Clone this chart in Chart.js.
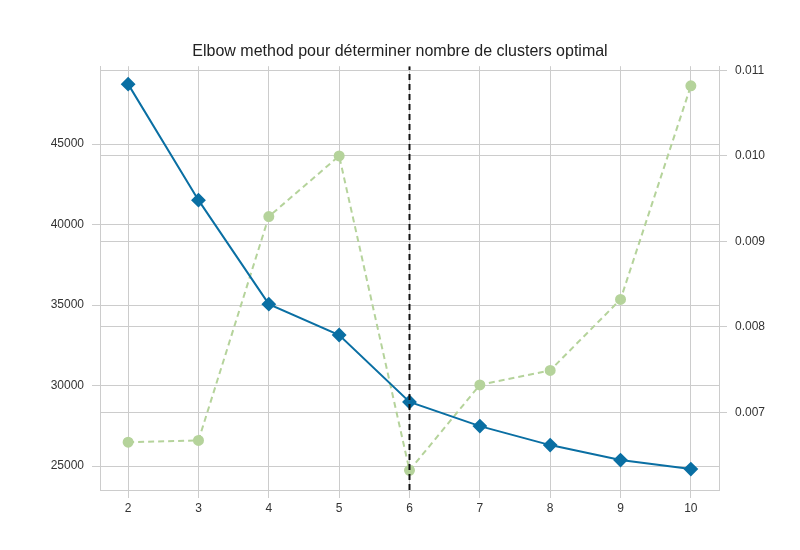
<!DOCTYPE html>
<html>
<head>
<script src="https://cdn.jsdelivr.net/npm/chart.js@4"></script>
<style>body{margin:0;background:#fff}#wrap{width:800px;height:550px}</style>
</head>
<body>
<div id="wrap"><canvas id="c"></canvas></div>
<script>
// ---------------- Data ----------------
const kValues = [2, 3, 4, 5, 6, 7, 8, 9, 10];
const distortion = [48730, 41520, 35060, 33140, 28980, 27480, 26300, 25370, 24810];
const fitTime = [0.00665, 0.00667, 0.00929, 0.0100, 0.00632, 0.00732, 0.00749, 0.00832, 0.01082];
const elbowK = 6;
const leftTicks = [25000, 30000, 35000, 40000, 45000];
const rightTicks = [0.007, 0.008, 0.009, 0.010, 0.011];

const yMin = 23510, yMax = 49845;
const grid = { color: "#cccccc", lineWidth: 1 };
const tickFont = { family: "Liberation Sans", size: 12 };

new Chart(document.getElementById("c"), {
  type: "line",
  data: {
    datasets: [
      {
        data: kValues.map((k, i) => ({ x: k, y: distortion[i] })),
        borderColor: "#0a6fa3",
        backgroundColor: "#0a6fa3",
        borderWidth: 2,
        pointStyle: "rectRot",
        pointRadius: 6,
        yAxisID: "y",
        order: 1,
      },
      {
        data: kValues.map((k, i) => ({ x: k, y: fitTime[i] })),
        borderColor: "#b5d39b",
        backgroundColor: "#b5d39b",
        borderWidth: 2,
        borderDash: [6, 4],
        pointRadius: 4.5,
        yAxisID: "y1",
        order: 2,
      },
      {
        data: [{ x: elbowK, y: yMin }, { x: elbowK, y: yMax }],
        borderColor: "#111",
        borderWidth: 2,
        borderDash: [6, 4],
        pointRadius: 0,
        yAxisID: "y",
        order: 0,
      },
    ],
  },
  options: {
    responsive: true,
    maintainAspectRatio: false,
    animation: false,
    layout: { padding: 0 },
    plugins: {
      legend: { display: false },
      tooltip: { enabled: false },
      title: {
        display: true,
        text: "Elbow method pour déterminer nombre de clusters optimal",
        color: "#222",
        font: { family: "Liberation Sans", size: 16, weight: "normal" },
        padding: { top: 42, bottom: 5 },
      },
    },
    scales: {
      x: {
        type: "linear",
        min: 1.6,
        max: 10.4,
        afterBuildTicks: (s) => { s.ticks = kValues.map((v) => ({ value: v })); },
        afterFit: (s) => { s.height = 60; },
        grid: grid,
        border: { color: "#cccccc" },
        ticks: { color: "#333", font: tickFont },
      },
      y: {
        position: "left",
        min: yMin,
        max: yMax,
        afterBuildTicks: (s) => { s.ticks = leftTicks.map((v) => ({ value: v })); },
        afterFit: (s) => { s.width = 100; },
        grid: grid,
        border: { color: "#cccccc" },
        ticks: { color: "#333", font: tickFont, padding: 8, callback: (v) => String(v) },
      },
      y1: {
        position: "right",
        min: 0.00609,
        max: 0.01105,
        afterBuildTicks: (s) => { s.ticks = rightTicks.map((v) => ({ value: v })); },
        afterFit: (s) => { s.width = 81; },
        grid: grid,
        border: { color: "#cccccc" },
        ticks: { color: "#333", font: tickFont, padding: 8, callback: (v) => v.toFixed(3) },
      },
    },
  },
});
</script>
</body>
</html>
